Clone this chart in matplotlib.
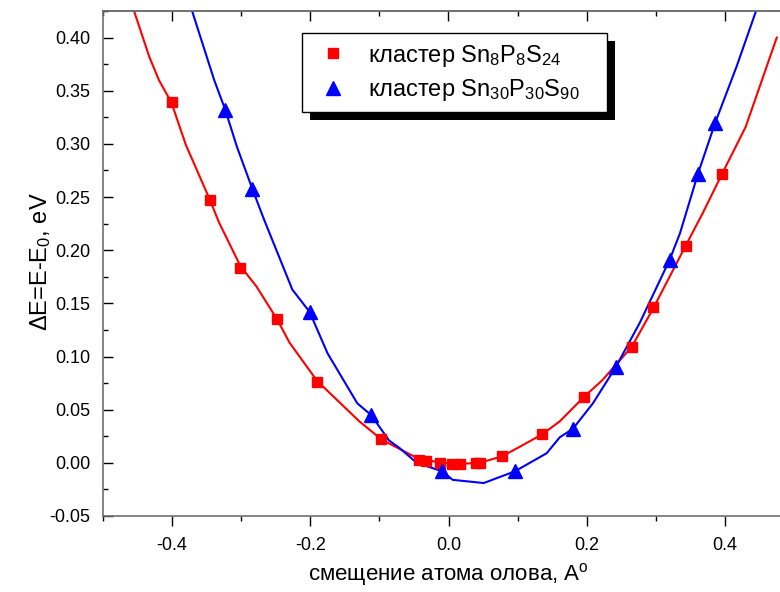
import matplotlib
matplotlib.use("Agg")
import matplotlib.pyplot as plt
from matplotlib.patches import Rectangle
from matplotlib.ticker import MultipleLocator

plt.rcParams["font.family"] = ["Liberation Sans", "DejaVu Sans"]
plt.rcParams["mathtext.fontset"] = "custom"
plt.rcParams["mathtext.rm"] = "Liberation Sans"
plt.rcParams["mathtext.it"] = "Liberation Sans:italic"
plt.rcParams["mathtext.default"] = "regular"

# cluster Sn8P8S24: computed points
red_x = [-0.400, -0.345, -0.301, -0.248, -0.190, -0.097, -0.043, -0.033, -0.013,
         0.005, 0.016, 0.040, 0.045, 0.077, 0.136, 0.196, 0.265, 0.296, 0.343, 0.396]
red_y = [0.339, 0.247, 0.183, 0.135, 0.076, 0.022, 0.003, 0.002, 0.000,
         -0.001, -0.001, 0.000, 0.000, 0.006, 0.027, 0.062, 0.109, 0.147, 0.204, 0.272]

# cluster Sn30P30S90: computed points
blue_x = [-0.323, -0.284, -0.201, -0.112, -0.009, 0.096, 0.180, 0.242, 0.320, 0.361, 0.386]
blue_y = [0.332, 0.258, 0.142, 0.045, -0.008, -0.008, 0.032, 0.090, 0.191, 0.272, 0.320]

# fitted curves
fit_red_x = [-0.455, -0.433, -0.419, -0.401, -0.380, -0.345, -0.332, -0.301, -0.278,
             -0.248, -0.230, -0.190, -0.129, -0.097, -0.050, -0.013, 0.016, 0.045,
             0.077, 0.100, 0.136, 0.161, 0.196, 0.223, 0.265, 0.296, 0.343, 0.368,
             0.396, 0.430, 0.475]
fit_red_y = [0.425, 0.382, 0.360, 0.339, 0.299, 0.247, 0.226, 0.185, 0.166,
             0.135, 0.113, 0.077, 0.039, 0.022, 0.006, 0.000, -0.001, 0.000,
             0.006, 0.014, 0.027, 0.039, 0.062, 0.078, 0.109, 0.145, 0.204, 0.235,
             0.272, 0.316, 0.400]

fit_blue_x = [-0.371, -0.339, -0.323, -0.306, -0.284, -0.267, -0.226, -0.201, -0.175,
              -0.132, -0.112, -0.086, -0.071, -0.046, -0.009, 0.006, 0.051, 0.096,
              0.142, 0.161, 0.180, 0.209, 0.242, 0.277, 0.320, 0.335, 0.361, 0.386,
              0.417, 0.445]
fit_blue_y = [0.425, 0.360, 0.332, 0.297, 0.258, 0.229, 0.163, 0.142, 0.103,
              0.056, 0.045, 0.021, 0.014, 0.000, -0.008, -0.016, -0.019, -0.008,
              0.009, 0.024, 0.032, 0.056, 0.090, 0.132, 0.191, 0.216, 0.272, 0.320,
              0.373, 0.425]

labels = ["кластер Sn$_8$P$_8$S$_{24}$", "кластер Sn$_{30}$P$_{30}$S$_{90}$"]

fig = plt.figure(figsize=(7.8, 5.92), dpi=100)
ax = fig.add_axes([0.132, 0.1284, 0.886, 0.853])

ax.plot(fit_red_x, fit_red_y, color="#ff0000", lw=1.5, zorder=2)
ax.plot(fit_blue_x, fit_blue_y, color="#0000ff", lw=1.5, zorder=2)
ax.plot(red_x, red_y, ls="none", marker="s", ms=7.8, color="#ff0000",
        label=labels[0], zorder=3)
ax.plot(blue_x, blue_y, ls="none", marker="^", ms=10, color="#0000ff",
        label=labels[1], zorder=3)

ax.set_xlim(-0.5, 0.5)
ax.set_ylim(-0.05, 0.425)
ax.xaxis.set_major_locator(MultipleLocator(0.2))
ax.xaxis.set_minor_locator(MultipleLocator(0.1))
ax.yaxis.set_major_locator(MultipleLocator(0.05))
ax.yaxis.set_minor_locator(MultipleLocator(0.025))
ax.xaxis.set_major_formatter(plt.FuncFormatter(lambda v, p: f"{v:.1f}"))
ax.yaxis.set_major_formatter(plt.FuncFormatter(lambda v, p: f"{v:.2f}"))

for s in ax.spines.values():
    s.set_color("#707070")
    s.set_linewidth(1.2)
ax.tick_params(axis="x", which="both", direction="out", top=False, labelsize=13,
               color="black", pad=8)
ax.tick_params(axis="y", which="both", direction="in", right=False, labelsize=13,
               color="black", pad=9)
ax.tick_params(which="major", length=7, width=1)
ax.tick_params(which="minor", length=3.5, width=1)

# top axis: ticks pointing inward, no labels
top = ax.secondary_xaxis("top")
top.xaxis.set_major_locator(MultipleLocator(0.2))
top.xaxis.set_minor_locator(MultipleLocator(0.1))
top.tick_params(which="both", direction="in", labeltop=False, color="black", width=1)
top.tick_params(which="major", length=7)
top.tick_params(which="minor", length=3.5)
top.spines["top"].set_color("#707070")
top.spines["top"].set_linewidth(1.2)

ax.set_xlabel("смещение атома олова, A$^o$", fontsize=16, labelpad=5)
ax.set_ylabel("ΔE=E-E$_0$, eV", fontsize=17)
ax.yaxis.set_label_coords(-0.072, 0.503)

leg = ax.legend(loc="upper left", bbox_to_anchor=(0.288, 0.5, 0.441, 0.456),
                mode="expand", borderaxespad=0,
                fontsize=17, frameon=True, fancybox=False, numpoints=1,
                framealpha=1, facecolor="white",
                handlelength=1.8, handletextpad=0.6, labelspacing=0.35,
                borderpad=0.4)
leg.get_frame().set_edgecolor("black")
leg.get_frame().set_linewidth(1.0)
leg.set_zorder(6)

fig.canvas.draw()
bb = leg.get_window_extent()
shadow = Rectangle((bb.x0 + 8, bb.y0 - 8), bb.width, bb.height,
                   transform=None, facecolor="black", edgecolor="none",
                   zorder=5, clip_on=False)
ax.add_artist(shadow)

fig.savefig("out.png", dpi=100)
